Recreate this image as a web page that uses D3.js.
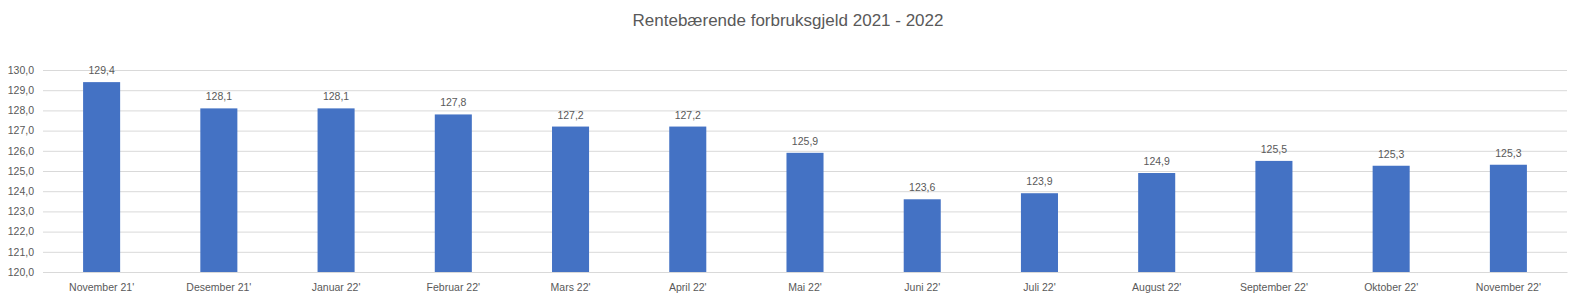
<!DOCTYPE html>
<html>
<head>
<meta charset="utf-8">
<script src="https://cdn.jsdelivr.net/npm/d3@7"></script>
<style>
body{margin:0;background:#fff;}
text{font-family:"Liberation Sans",Arial,sans-serif;fill:#595959;}
</style>
</head>
<body>
<div id="chart"></div>
<script>
var w=1581;
var h=301;
var months=["November 21'","Desember 21'","Januar 22'","Februar 22'","Mars 22'","April 22'","Mai 22'","Juni 22'","Juli 22'","August 22'","September 22'","Oktober 22'","November 22'"];
var values=[129.4,128.1,128.1,127.8,127.2,127.2,125.9,123.6,123.9,124.9,125.5,125.26,125.31];
var yTicks=[120,121,122,123,124,125,126,127,128,129,130];
var title="Rentebærende forbruksgjeld 2021 - 2022";

var plotLeft=43,plotRight=1567,plotTop=70,plotBottom=272;
var fmt=function(v){return d3.format(".1f")(v).replace(".",",");};

var svg=d3.select("#chart")
  .append("svg")
  .attr("width",w)
  .attr("height",h);

var x=d3.scaleBand().domain(months).range([plotLeft,plotRight]).paddingInner(0.684).paddingOuter(0.342);
var y=d3.scaleLinear().domain([120,130]).range([plotBottom,plotTop]);

svg.append("text")
   .attr("x",788)
   .attr("y",26)
   .attr("text-anchor","middle")
   .style("font-size","17px")
   .text(title);

// gridlines + y labels
var yAxis=svg.append("g")
   .attr("transform","translate("+plotLeft+",0)")
   .call(d3.axisLeft(y).tickValues(yTicks).tickSize(-(plotRight-plotLeft)).tickFormat(fmt).tickPadding(9));
yAxis.select(".domain").remove();
yAxis.selectAll("line").attr("stroke","#d9d9d9");
yAxis.selectAll("text").style("font-size","10.5px").attr("fill","#595959");

var xAxis=svg.append("g")
   .attr("transform","translate(0,"+plotBottom+")")
   .call(d3.axisBottom(x).tickSize(0).tickPadding(12));
xAxis.select(".domain").attr("stroke","#d9d9d9");
xAxis.selectAll("text").style("font-size","10.5px").attr("fill","#595959");

svg.selectAll("rect.bar")
   .data(values)
   .enter()
   .append("rect")
   .attr("class","bar")
   .attr("x",function(d,i){return x(months[i]);})
   .attr("width",x.bandwidth())
   .attr("y",function(d){return y(d);})
   .attr("height",function(d){return y(120)-y(d);})
   .attr("fill","#4472c4");

svg.selectAll("text.lbl")
   .data(values)
   .enter()
   .append("text")
   .attr("class","lbl")
   .attr("x",function(d,i){return x(months[i])+x.bandwidth()/2;})
   .attr("y",function(d){return y(d)-8;})
   .attr("text-anchor","middle")
   .style("font-size","10.5px")
   .text(function(d){return fmt(d);});
</script>
</body>
</html>
